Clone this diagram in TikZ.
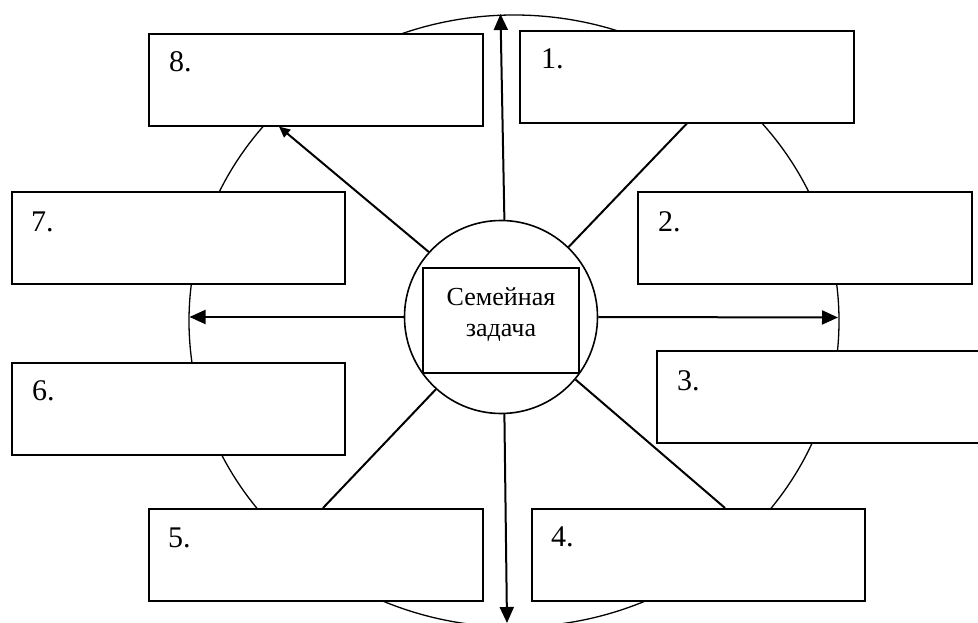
\documentclass[tikz,border=0pt]{standalone}
\usepackage{fontspec}
\setmainfont{Liberation Serif}
\usetikzlibrary{arrows.meta,calc}
\begin{document}
\begin{tikzpicture}[x=1pt,y=-1pt,
  box/.style={draw, line width=1.6pt, fill=white, minimum width=334pt, minimum height=92pt, anchor=north west, inner sep=0pt},
  num/.style={anchor=base west, inner sep=0pt, font=\fontsize{30}{36}\selectfont},
  spoke/.style={line width=2pt},
  arr/.style={line width=2pt, -{Triangle[length=16pt,width=14pt]}},
  sarr/.style={line width=2pt, -{Triangle[length=11pt,width=10pt]}}]
\useasboundingbox (0,0) rectangle (978,623);
\fill[white] (0,0) rectangle (978,623);
% outer ellipse
\draw[line width=1.3pt] (514,321) ellipse [x radius=325, y radius=306];
% boxes
\node[box] (b8) at (148,33) {};
\node[box] (b1) at (519,30) {};
\node[box, minimum width=333pt] (b7) at (11,191) {};
\node[box] (b2) at (637,191) {};
\node[box, minimum width=333pt] (b6) at (11,362) {};
\node[box] (b3) at (656,350) {};
\node[box] (b5) at (148,508) {};
\node[box, minimum width=333pt] (b4) at (531,508) {};
% numbers
\node[num] (t8) at ($(b8.north west)+(21,39)$) {8.};
\node[num] (t1) at ($(b1.north west)+(22,39)$) {1.};
\node[num] (t7) at ($(b7.north west)+(20,40)$) {7.};
\node[num] (t2) at ($(b2.north west)+(21,40)$) {2.};
\node[num] (t6) at ($(b6.north west)+(21,38)$) {6.};
\node[num] (t3) at ($(b3.north west)+(21,40)$) {3.};
\node[num] (t5) at ($(b5.north west)+(20,39)$) {5.};
\node[num] (t4) at ($(b4.north west)+(20,38)$) {4.};
% centre circle
\node[circle, draw, line width=1.6pt, minimum size=193pt, inner sep=0pt] (c) at (501,317) {};
\node[draw, line width=1.8pt, minimum width=156pt, minimum height=105pt, inner sep=0pt] (r) at (501,320.5) {};
\node[align=center, inner sep=0pt, font=\fontsize{26}{31}\selectfont] (rt) at (501,314.5) {Семейная\\задача};
% free ends
\coordinate (tipU) at (500.5,14);
\coordinate (tipD) at (507,623);
\coordinate (tipL) at (189.5,317);
\coordinate (tipR) at (838,317.5);
% spokes
\draw[arr] (c.88) -- (tipU);
\draw[arr] (c.-88) -- (tipD);
\draw[arr] (c.180) -- (tipL);
\draw[arr] (c.0) -- (tipR);
\draw[sarr] (c.138) -- ($(b8.south west)+(131,0)$);
\draw[spoke] (c.46) -- (b1.south);
\draw[spoke] (c.-40) -- ($(b4.north west)+(194,0)$);
\draw[spoke] (c.-132) -- ($(b5.north west)+(175,0)$);
\end{tikzpicture}
\end{document}
